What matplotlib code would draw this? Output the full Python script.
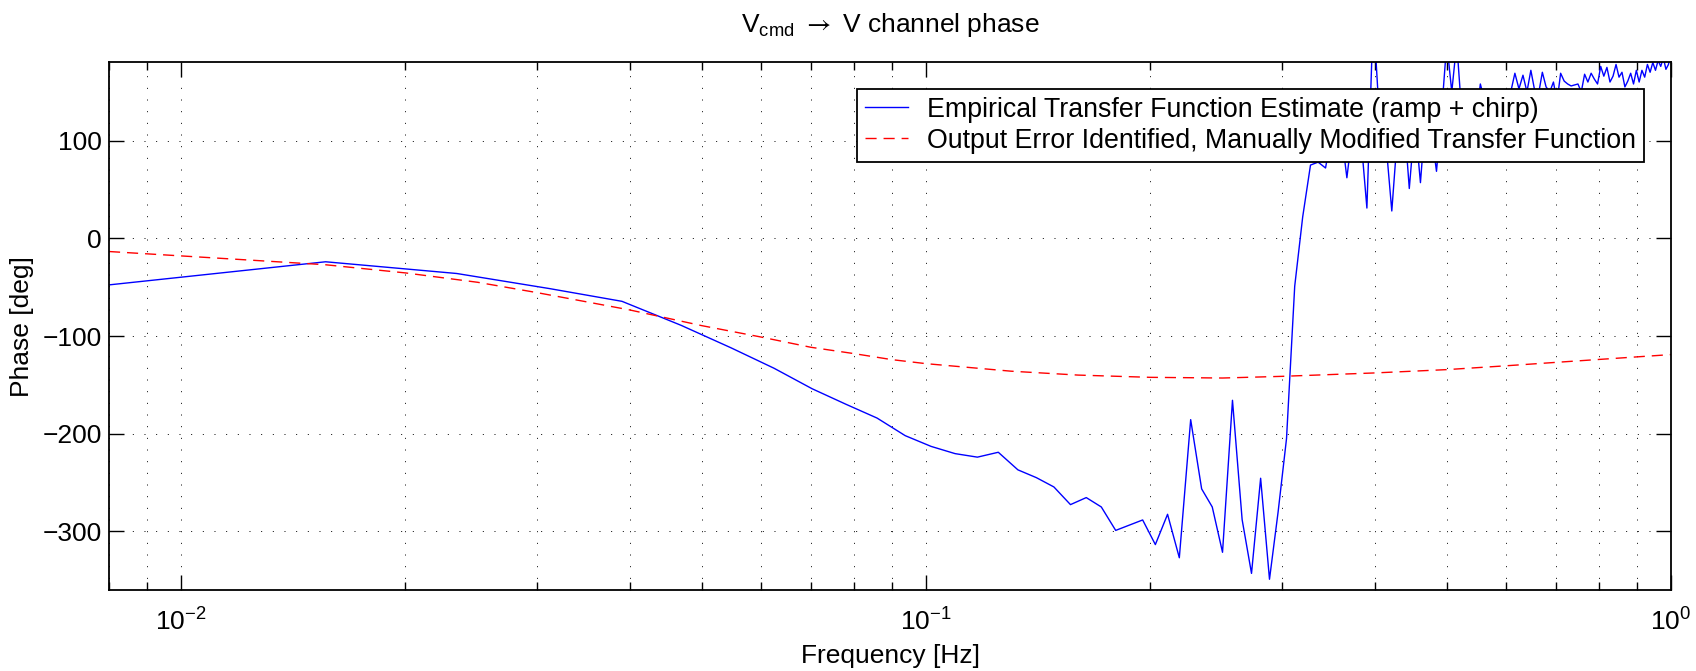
import numpy as np
import matplotlib.pyplot as plt
from matplotlib.ticker import LogLocator, FixedLocator

plt.rcParams['font.family'] = ['Liberation Sans', 'DejaVu Sans']
plt.rcParams['mathtext.fontset'] = 'custom'
plt.rcParams['mathtext.rm'] = 'Liberation Sans'
plt.rcParams['mathtext.it'] = 'Liberation Sans:italic'
plt.rcParams['mathtext.bf'] = 'Liberation Sans:bold'
plt.rcParams['mathtext.sf'] = 'STIXGeneral'  # only used for the arrow in the title

# empirical estimate, one value per FFT bin (df = 1/128 Hz)
df = 1.0 / 128
etfe_phase = [
    -48.5, -24, -36, -51.5, -64.5, -89, -112, -133, -154, -170,   # 1-10
    -184, -202, -213, -220.4, -224, -219, -237, -245, -254.5, -272.6,  # 11-20
    -265.4, -275, -299, -293.6, -288.3, -313.5, -282.5, -327, -185.6, -256.5,  # 21-30
    -275, -321.4, -165.8, -288, -343, -245.6, -349, -280, -205, -49,  # 31-40
    22, 75, 78, 72, 115, 120, 62, 120, 110, 31,                   # 41-50
    230, 120, 100, 28, 110, 130, 51, 120, 57, 130,                # 51-60
    110, 68.6, 130, 200, 150, 200, 130, 130, 140, 120,            # 61-70
    158, 140, 130, 145, 120, 135, 140, 150, 169, 153,             # 71-80
    167, 150, 172, 151, 148, 170, 155, 150, 160, 140,             # 81-90
    169, 161, 158, 156, 157, 158, 150, 168, 160, 169,             # 91-100
    163, 158, 176, 166, 175, 160, 166, 178, 165, 170,             # 101-110
    155, 161, 169, 158, 172, 160, 172, 165, 178, 170,             # 111-120
    180, 172, 182, 176, 185, 173, 178, 190,                       # 121-128
]
etfe_freq = df * np.arange(1, len(etfe_phase) + 1)

# identified model phase
model_freq = [0.008, 0.01, 0.0125, 0.0156, 0.02, 0.025, 0.03, 0.035, 0.04, 0.05,
              0.06, 0.07, 0.08, 0.09, 0.1, 0.13, 0.16, 0.2, 0.25, 0.3,
              0.4, 0.5, 0.6, 0.7, 0.8, 1.0]
model_phase = [-13.5, -18, -22.5, -27, -35.4, -45, -55.5, -65, -73.3, -89.4,
               -101, -111.5, -118, -124.2, -128.3, -136, -140, -142.3, -143, -141.3,
               -137.8, -134.4, -130.5, -127, -124, -119]

legend_labels = ['Empirical Transfer Function Estimate (ramp + chirp)',
                 'Output Error Identified, Manually Modified Transfer Function']

FS = 19

fig = plt.figure(figsize=(16.96, 6.71), dpi=100)
ax = fig.add_axes([0.06427, 0.12072, 0.92099, 0.78614])

ax.semilogx(etfe_freq, etfe_phase, color=(0, 0, 1), lw=1.0, label=legend_labels[0])
ax.semilogx(model_freq, model_phase, color=(1, 0, 0), lw=1.0, dashes=(8, 5),
            label=legend_labels[1])

ax.set_xlim(0.008, 1.0)
ax.set_ylim(-360, 180)
ax.yaxis.set_major_locator(FixedLocator([-300, -200, -100, 0, 100]))
ax.xaxis.set_major_locator(LogLocator(base=10, numticks=10))
ax.xaxis.set_minor_locator(LogLocator(base=10, subs=np.arange(2, 10), numticks=10))

grid_style = dict(color='black', linestyle=(0, (1, 11)), linewidth=0.7)
ax.grid(True, which='major', axis='both', **grid_style)
ax.grid(True, which='minor', axis='x', **grid_style)

ax.tick_params(which='both', direction='in', top=True, right=True,
               labelsize=FS, width=1.0)
ax.tick_params(which='major', length=11)
ax.tick_params(which='minor', length=6)
ax.tick_params(axis='x', which='both', pad=13)
ax.tick_params(axis='y', which='both', pad=5)
for sp in ax.spines.values():
    sp.set_linewidth(1.3)

ax.set_xlabel('Frequency [Hz]', fontsize=FS, labelpad=6)
ax.set_ylabel('Phase [deg]', fontsize=FS, labelpad=6)
ax.set_title('V$_{\\mathrm{cmd}}$ $\\mathsf{\\rightarrow}$ V channel phase',
             fontsize=FS, pad=22)

leg = ax.legend(loc='upper right', bbox_to_anchor=(0.9827, 0.9503), fontsize=19.3,
                fancybox=False, framealpha=1, edgecolor='black', handlelength=1.6,
                handletextpad=0.7, labelspacing=0.18, borderpad=0.3,
                borderaxespad=0)
leg.get_frame().set_linewidth(1.3)

fig.savefig('out.png', dpi=100)
